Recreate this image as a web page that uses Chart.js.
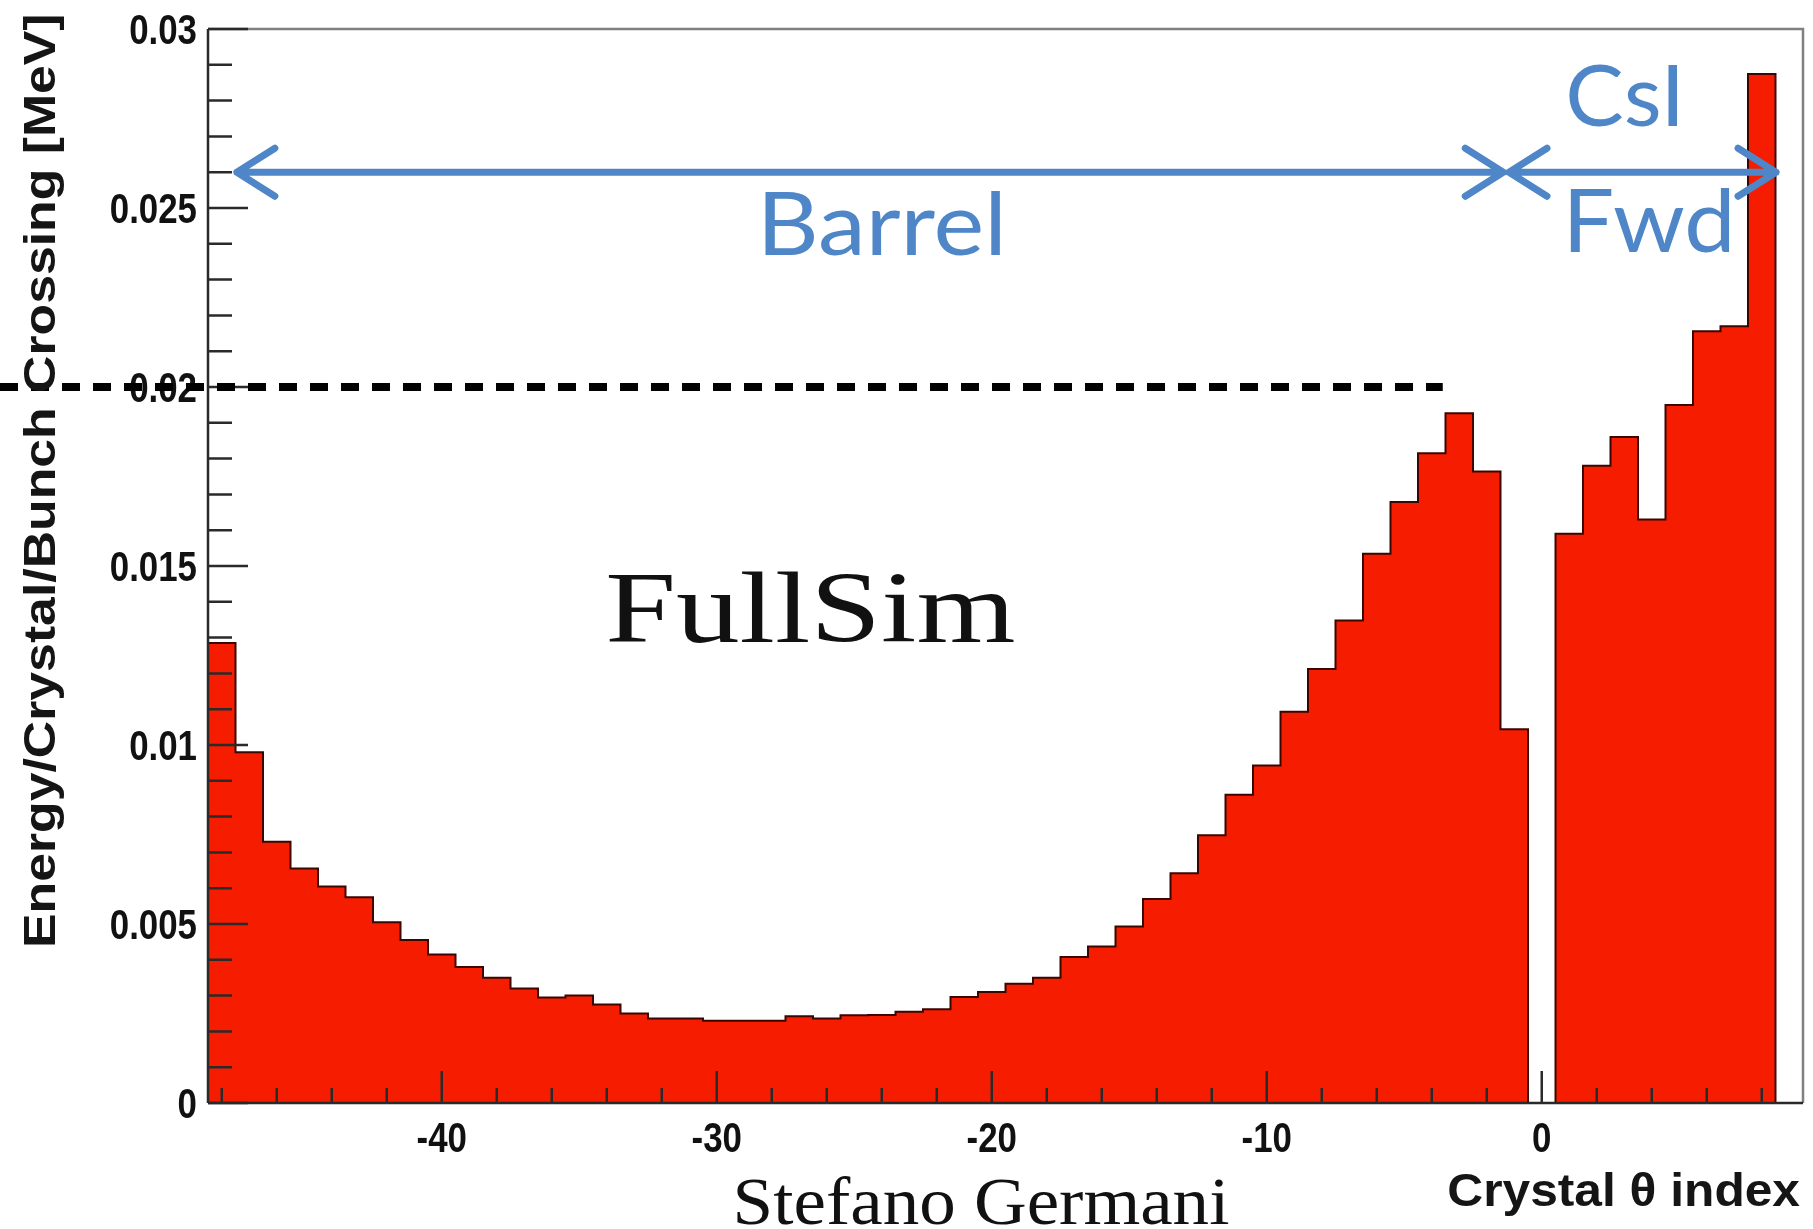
<!DOCTYPE html>
<html lang="en">
<head>
    <meta charset="UTF-8">
    <title>FullSim - Energy per crystal per bunch crossing</title>
    <script src="https://cdn.jsdelivr.net/npm/chart.js@4.4.1/dist/chart.umd.min.js"></script>
    <style>
        html, body { margin: 0; padding: 0; background: #fff; overflow: hidden; }
        canvas { display: block; }
    </style>
</head>
<body>
    <canvas id="histo" width="1813" height="1229"></canvas>

    <script>
        // Crystal theta index (bin centres) and energy per bin [MeV]
        const thetaIndex = [
            -48, -47, -46, -45, -44, -43, -42, -41, -40, -39,
            -38, -37, -36, -35, -34, -33, -32, -31, -30, -29,
            -28, -27, -26, -25, -24, -23, -22, -21, -20, -19,
            -18, -17, -16, -15, -14, -13, -12, -11, -10, -9,
            -8, -7, -6, -5, -4, -3, -2, -1, 0, 1,
            2, 3, 4, 5, 6, 7, 8, 9
        ];
        const energy = [
            0.01285, 0.0098, 0.0073, 0.00655, 0.00605, 0.00575, 0.00505, 0.00455, 0.00415, 0.0038,
            0.0035, 0.0032, 0.00295, 0.003, 0.00275, 0.0025, 0.00236, 0.00236, 0.0023, 0.0023,
            0.0023, 0.00242, 0.00236, 0.00245, 0.00246, 0.00255, 0.00262, 0.00296, 0.0031, 0.00333,
            0.0035, 0.00408, 0.00437, 0.00493, 0.0057, 0.00642, 0.00748, 0.00861, 0.00943, 0.01093,
            0.01212, 0.01348, 0.01534, 0.01679, 0.01815, 0.01927, 0.01764, 0.01044, 0, 0.0159,
            0.0178, 0.0186, 0.0163, 0.0195, 0.02156, 0.0217, 0.02874, 0
        ];

        // Axis ticks and labels
        const xTickValues = [-40, -30, -20, -10, 0];
        const xTickLabels = ['-40', '-30', '-20', '-10', '0'];
        const yTickValues = [0, 0.005, 0.01, 0.015, 0.02, 0.025, 0.03];
        const yTickLabels = ['0', '0.005', '0.01', '0.015', '0.02', '0.025', '0.03'];

        // Annotation positions in data units
        const dashedLevel = 0.02;
        const dashedEndX = -3.6;
        const arrowLevel = 0.026;
        const barrelArrow = [-47.45, -1.4];
        const fwdArrow = [-1.19, 8.52];

        const RED = 'rgb(245, 28, 0)';
        const BLUE = 'rgb(79, 134, 200)';
        const LABEL_FONT = 'bold 42px "Liberation Sans"';

        // histogram outline: two points per bin (left and right edge)
        const steps = [];
        thetaIndex.forEach((t, i) => {
            steps.push({ x: t - 0.5, y: energy[i] });
            steps.push({ x: t + 0.5, y: energy[i] });
        });

        function drawText(ctx, str, px, py, font, color, align, sx) {
            ctx.save();
            ctx.translate(px, py);
            ctx.scale(sx, 1);
            ctx.font = font;
            ctx.fillStyle = color;
            ctx.textAlign = align;
            ctx.textBaseline = 'alphabetic';
            ctx.fillText(str, 0, 0);
            ctx.restore();
        }

        function drawArrow(ctx, x1, x2, y) {
            const hx = 38, hy = 24;
            ctx.beginPath();
            ctx.moveTo(x1, y);
            ctx.lineTo(x2, y);
            ctx.moveTo(x1 + hx, y - hy);
            ctx.lineTo(x1, y);
            ctx.lineTo(x1 + hx, y + hy);
            ctx.moveTo(x2 - hx, y - hy);
            ctx.lineTo(x2, y);
            ctx.lineTo(x2 - hx, y + hy);
            ctx.stroke();
        }

        // ROOT style frame and ticks, drawn over the histogram
        const rootFrame = {
            id: 'rootFrame',
            afterDatasetsDraw(chart) {
                const { ctx, chartArea: a, scales: { x, y } } = chart;
                ctx.save();
                ctx.strokeStyle = '#808080';
                ctx.lineWidth = 2.5;
                ctx.beginPath();
                ctx.moveTo(a.left, a.top);
                ctx.lineTo(a.right, a.top);
                ctx.lineTo(a.right, a.bottom);
                ctx.stroke();

                ctx.strokeStyle = '#2a2a2a';
                ctx.lineWidth = 2.5;
                ctx.beginPath();
                ctx.moveTo(a.left, a.top);
                ctx.lineTo(a.left, a.bottom);
                ctx.moveTo(a.left, a.bottom);
                ctx.lineTo(a.right, a.bottom);
                ctx.stroke();

                // y ticks: major every 0.005, minor every 0.001
                ctx.beginPath();
                for (let i = 0; i <= 30; i++) {
                    const py = y.getPixelForValue(i * 0.001);
                    const len = i % 5 === 0 ? 40 : 24;
                    ctx.moveTo(a.left, py);
                    ctx.lineTo(a.left + len, py);
                }
                // x ticks: major every 10, minor every 2
                for (let v = -48; v <= 8; v += 2) {
                    const px = x.getPixelForValue(v);
                    const len = v % 10 === 0 ? 32 : 15;
                    ctx.moveTo(px, a.bottom);
                    ctx.lineTo(px, a.bottom - len);
                }
                ctx.stroke();

                // tick labels (condensed bold, like the ROOT canvas)
                y.ticks.forEach((t, i) => {
                    drawText(ctx, yTickLabels[i], a.left - 11, y.getPixelForValue(t.value) + 15,
                        LABEL_FONT, '#111', 'right', 0.83);
                });
                x.ticks.forEach((t, i) => {
                    drawText(ctx, xTickLabels[i], x.getPixelForValue(t.value), a.bottom + 49,
                        LABEL_FONT, '#111', 'center', 0.83);
                });
                ctx.restore();
            },
            afterDraw(chart) {
                const { ctx, scales: { x, y } } = chart;
                ctx.save();

                // dashed 0.02 level
                ctx.strokeStyle = '#000';
                ctx.lineWidth = 8;
                ctx.setLineDash([18, 13]);
                ctx.beginPath();
                const yd = y.getPixelForValue(dashedLevel);
                ctx.moveTo(0, yd);
                ctx.lineTo(x.getPixelForValue(dashedEndX), yd);
                ctx.stroke();
                ctx.setLineDash([]);

                // Barrel / CsI Fwd arrows
                ctx.strokeStyle = BLUE;
                ctx.lineWidth = 7;
                ctx.lineCap = 'round';
                ctx.lineJoin = 'round';
                const ya = y.getPixelForValue(arrowLevel);
                drawArrow(ctx, x.getPixelForValue(barrelArrow[0]), x.getPixelForValue(barrelArrow[1]), ya);
                drawArrow(ctx, x.getPixelForValue(fwdArrow[0]), x.getPixelForValue(fwdArrow[1]), ya);

                drawText(ctx, 'Barrel', x.getPixelForValue(-24.0), y.getPixelForValue(0.0237),
                    '88px Lato', BLUE, 'center', 1.09);
                drawText(ctx, 'CsI', x.getPixelForValue(3.03), y.getPixelForValue(0.0273),
                    '85px Lato', BLUE, 'center', 1.03);
                drawText(ctx, 'Fwd', x.getPixelForValue(3.9), y.getPixelForValue(0.02377),
                    '88px Lato', BLUE, 'center', 1.04);

                drawText(ctx, 'FullSim', x.getPixelForValue(-26.6), y.getPixelForValue(0.01288),
                    '101px "Liberation Serif"', '#111', 'center', 1.26);

                // axis titles
                drawText(ctx, 'Crystal \u03b8 index', 1800, 1206,
                    'bold 46px "Liberation Sans"', '#151515', 'right', 1.08);
                ctx.save();
                ctx.translate(55, 948);
                ctx.rotate(-Math.PI / 2);
                ctx.scale(1.15, 1);
                ctx.font = 'bold 45px "Liberation Sans"';
                ctx.fillStyle = '#151515';
                ctx.textAlign = 'left';
                ctx.fillText('Energy/Crystal/Bunch Crossing [MeV]', 0, 0);
                ctx.restore();

                drawText(ctx, 'Stefano Germani', 981, 1224,
                    '67px "Liberation Serif"', '#111', 'center', 1.09);
                ctx.restore();
            }
        };

        new Chart(document.getElementById('histo'), {
            type: 'line',
            data: {
                datasets: [{
                    data: steps,
                    fill: 'origin',
                    backgroundColor: RED,
                    borderColor: 'rgb(60, 6, 0)',
                    borderWidth: 2,
                    pointRadius: 0,
                    tension: 0,
                    borderJoinStyle: 'miter'
                }]
            },
            options: {
                responsive: false,
                animation: false,
                layout: { padding: { left: 0, top: 29, right: 10, bottom: 0 } },
                scales: {
                    x: {
                        type: 'linear',
                        min: -48.5,
                        max: 9.5,
                        grid: { display: false },
                        border: { display: false },
                        ticks: { display: false },
                        afterFit: s => {
                            s.height = 126;
                            s.paddingLeft = 0;
                            s.paddingRight = 0;
                        },
                        afterBuildTicks: s => { s.ticks = xTickValues.map(v => ({ value: v })); }
                    },
                    y: {
                        min: 0,
                        max: 0.03,
                        grid: { display: false },
                        border: { display: false },
                        ticks: { display: false },
                        afterFit: s => {
                            s.width = 208;
                            s.paddingTop = 0;
                            s.paddingBottom = 0;
                        },
                        afterBuildTicks: s => { s.ticks = yTickValues.map(v => ({ value: v })); }
                    }
                },
                plugins: {
                    legend: { display: false },
                    tooltip: { enabled: false }
                }
            },
            plugins: [rootFrame]
        });
    </script>
</body>
</html>
